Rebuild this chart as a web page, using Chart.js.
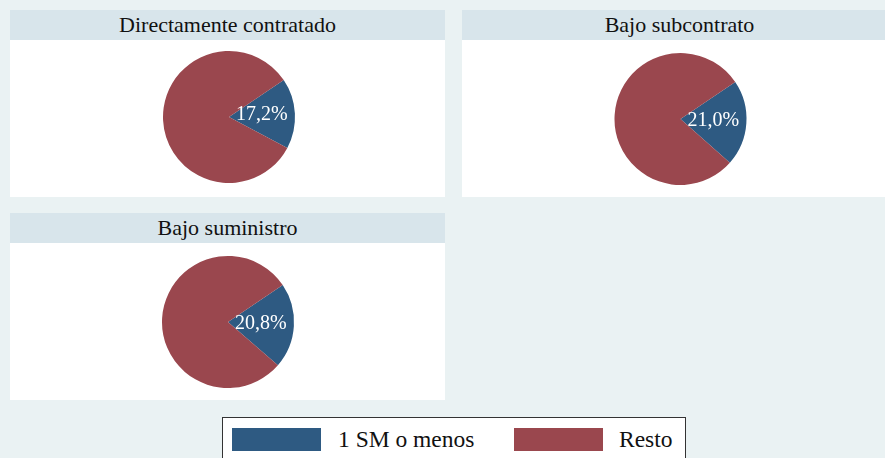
<!DOCTYPE html>
<html>
<head>
<meta charset="utf-8">
<script src="https://cdn.jsdelivr.net/npm/chart.js@4"></script>
<style>
  html, body { margin:0; padding:0; }
  body { width:885px; height:458px; background:#eaf2f3; position:relative; overflow:hidden;
         font-family:"Liberation Serif","Tinos","Times New Roman",Times,"DejaVu Serif","Noto Serif",serif; }
  .panel { position:absolute; width:435px; overflow:visible; }
  .head { height:30px; background:#d8e5eb; color:#111; font-size:22px; line-height:30px; text-align:center; }
  .bodyp { height:157px; background:#fff; position:relative; }
  .bodyp canvas { position:absolute; left:0; top:0; }
  #legend { position:absolute; left:222px; top:417px; width:462px; height:60px; border:1px solid #333;
            background:#fff; }
  .sw { position:absolute; top:10px; width:89px; height:23px; }
  .lt { position:absolute; top:6px; font-size:23.5px; line-height:30px; color:#111; white-space:nowrap; }
</style>
</head>
<body>
<div class="panel" style="left:10px; top:10px;"><div class="head" id="t0"></div><div class="bodyp"><canvas id="c0" width="435" height="157"></canvas></div></div>
<div class="panel" style="left:462px; top:10px;"><div class="head" id="t1"></div><div class="bodyp"><canvas id="c1" width="435" height="157"></canvas></div></div>
<div class="panel" style="left:10px; top:213px;"><div class="head" id="t2"></div><div class="bodyp"><canvas id="c2" width="435" height="157"></canvas></div></div>
<div id="legend">
  <div class="sw" id="sw0" style="left:9px;"></div><div class="lt" id="lt0" style="left:115px;"></div>
  <div class="sw" id="sw1" style="left:291px;"></div><div class="lt" id="lt1" style="left:396px;"></div>
</div>
<script>
// Data
const panels = ["Directamente contratado", "Bajo subcontrato", "Bajo suministro"];
const categories = ["1 SM o menos", "Resto"];
const smOMenos = [17.2, 21.0, 20.8];
const resto = [82.8, 79.0, 79.2];
const colors = ["#2e5a82", "#9a474e"];

const pads = [
  {top:11, bottom:14, left:3, right:0},
  {top:13, bottom:12, left:2, right:0},
  {top:13, bottom:12, left:1, right:0}
];

const SERIF = '"Liberation Serif", "Tinos", "Times New Roman", Times, "DejaVu Serif", "Noto Serif", serif';

const labelPlugin = {
  id: 'pctLabel',
  afterDatasetsDraw(chart) {
    const ctx = chart.ctx;
    const meta = chart.getDatasetMeta(0);
    const arc = meta.data[0];
    const v = chart.data.datasets[0].data[0];
    const p = arc.tooltipPosition();
    ctx.save();
    ctx.fillStyle = '#ffffff';
    ctx.font = '20px ' + SERIF;
    ctx.textAlign = 'center';
    ctx.textBaseline = 'middle';
    ctx.fillText(v.toFixed(1).replace('.', ',') + '%', p.x, p.y);
    ctx.restore();
  }
};

panels.forEach((name, i) => {
  document.getElementById('t' + i).textContent = name;
  new Chart(document.getElementById('c' + i), {
    type: 'pie',
    data: {
      labels: categories,
      datasets: [{ data: [smOMenos[i], resto[i]], backgroundColor: colors, borderWidth: 0 }]
    },
    options: {
      responsive: false,
      animation: false,
      devicePixelRatio: 1,
      rotation: 56,
      layout: { padding: pads[i] },
      plugins: { legend: { display: false }, tooltip: { enabled: false } }
    },
    plugins: [labelPlugin]
  });
});

categories.forEach((c, i) => {
  document.getElementById('sw' + i).style.background = colors[i];
  document.getElementById('lt' + i).textContent = c;
});
</script>
</body>
</html>
